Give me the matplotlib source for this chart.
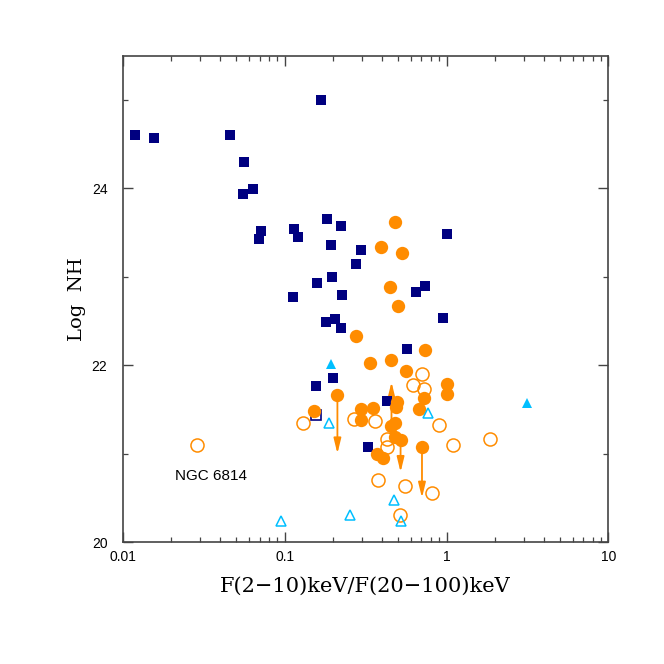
import matplotlib
matplotlib.use("Agg")
import matplotlib.pyplot as plt
from matplotlib.ticker import MultipleLocator, LogLocator, FuncFormatter, NullFormatter

plt.rcParams["font.family"] = ["Liberation Sans", "DejaVu Sans"]

navy = "#000080"
orange = "#FF8C00"
cyan = "#00BFFF"

# navy filled squares
sq_x = [0.0119, 0.0157, 0.0461, 0.0564, 0.0554, 0.0640, 0.0718, 0.0693,
        0.1138, 0.1208, 0.1667, 0.1833, 0.2234, 0.1923, 0.2972, 0.2742,
        0.1959, 0.1581, 0.2275, 0.1119, 0.1807, 0.2036, 0.2234, 0.731,
        0.648, 1.009, 0.953, 0.569, 0.200, 0.156, 0.4315, 0.3266]
sq_y = [24.60, 24.57, 24.60, 24.30, 23.94, 23.99, 23.52, 23.43,
        23.54, 23.45, 25.00, 23.65, 23.57, 23.36, 23.30, 23.14,
        23.00, 22.93, 22.79, 22.77, 22.49, 22.52, 22.42, 22.90,
        22.83, 23.48, 22.53, 22.18, 21.85, 21.77, 21.59, 21.08]

# navy open square
osq_x = [0.1552]
osq_y = [21.44]

# orange filled circles
fc_x = [0.480, 0.3945, 0.532, 0.449, 0.502, 0.2742, 0.7396, 0.3365,
        0.451, 0.564, 1.0, 1.0, 0.721, 0.675, 0.2118, 0.1524,
        0.297, 0.3524, 0.296, 0.493, 0.486, 0.480, 0.457, 0.480,
        0.520, 0.370, 0.4027, 0.705]
fc_y = [23.62, 23.34, 23.27, 22.88, 22.67, 22.33, 22.17, 22.03,
        22.06, 21.93, 21.79, 21.67, 21.63, 21.50, 21.66, 21.48,
        21.50, 21.52, 21.38, 21.58, 21.53, 21.35, 21.31, 21.19,
        21.15, 21.00, 20.95, 21.08]

# upper limits (arrows)
ul_x = [0.2118, 0.457, 0.520, 0.705]
ul_y = [21.66, 21.31, 21.15, 21.08]
ul_end = [21.00, 21.81, 20.79, 20.50]

# orange open circles
oc_x = [0.0286, 0.129, 0.268, 0.363, 0.706, 0.617, 0.724, 0.900,
        0.4315, 0.4315, 1.099, 1.85, 0.378, 0.553, 0.811, 0.515]
oc_y = [21.10, 21.35, 21.39, 21.37, 21.90, 21.78, 21.73, 21.32,
        21.16, 21.08, 21.10, 21.17, 20.70, 20.63, 20.56, 20.30]

# cyan triangles
ft_x = [0.193, 3.16]
ft_y = [22.01, 21.57]
ot_x = [0.189, 0.769, 0.473, 0.253, 0.0948, 0.520]
ot_y = [21.35, 21.46, 20.48, 20.31, 20.24, 20.24]

fig = plt.figure(figsize=(6.64, 6.64), dpi=100)
ax = fig.add_axes([0.1848, 0.1837, 0.7316, 0.7324])

for x, y0, y1 in zip(ul_x, ul_y, ul_end):
    ax.annotate("", xy=(x, y1), xytext=(x, y0),
                arrowprops=dict(arrowstyle="-|>,head_width=0.22,head_length=0.9",
                                color=orange, lw=1.3, mutation_scale=10,
                                shrinkA=0, shrinkB=0), zorder=1)

ax.plot(sq_x, sq_y, "s", color=navy, ms=7.6, mew=0, zorder=2)
ax.plot(osq_x, osq_y, "s", mfc="none", mec=navy, ms=7.6, mew=1.2, zorder=2)
ax.plot(oc_x, oc_y, "o", mfc="none", mec=orange, ms=9.4, mew=1.1, zorder=3)
ax.plot(fc_x, fc_y, "o", color=orange, ms=9.6, mew=0, zorder=4)
ax.plot(ft_x, ft_y, "^", color=cyan, ms=7.5, mew=0, zorder=5)
ax.plot(ot_x, ot_y, "^", mfc="none", mec=cyan, ms=7.8, mew=1.1, zorder=5)

ax.text(0.0351, 20.75, "NGC 6814", fontsize=11, ha="center", va="center")

ax.set_xscale("log")
ax.set_xlim(0.01, 10)
ax.set_ylim(20, 25.5)
ax.xaxis.set_major_locator(LogLocator(base=10, numticks=10))
ax.xaxis.set_minor_locator(LogLocator(base=10, subs=range(2, 10), numticks=20))
ax.xaxis.set_major_formatter(FuncFormatter(lambda v, p: "%g" % v))
ax.xaxis.set_minor_formatter(NullFormatter())
ax.yaxis.set_major_locator(MultipleLocator(2))
ax.yaxis.set_minor_locator(MultipleLocator(1))

for s in ax.spines.values():
    s.set_color("#444444")
    s.set_linewidth(1.2)
ax.tick_params(which="both", direction="in", top=True, right=True,
               color="#444444", labelsize=10)
ax.tick_params(which="major", length=7, width=1.0)
ax.tick_params(which="minor", length=3.5, width=0.9)
ax.tick_params(axis="x", pad=6)
ax.tick_params(axis="y", pad=11)

ax.set_xlabel("F(2\u221210)keV/F(20\u2212100)keV", family="DejaVu Serif",
              fontsize=15, labelpad=9)
ax.set_ylabel("Log  NH", family="DejaVu Serif", fontsize=14, labelpad=4)

fig.savefig("out.png", dpi=100)
